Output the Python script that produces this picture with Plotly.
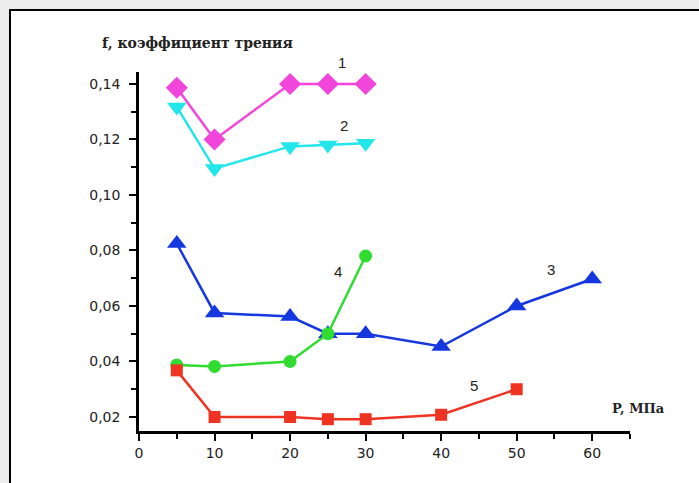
import plotly.graph_objects as go

# Data
x1 = [5, 10, 20, 25, 30]
y1 = [0.1386, 0.120, 0.140, 0.140, 0.140]

x2 = [5, 10, 20, 25, 30]
y2 = [0.1317, 0.1095, 0.1175, 0.118, 0.1186]

x3 = [5, 10, 20, 25, 30, 40, 50, 60]
y3 = [0.0825, 0.0575, 0.0562, 0.050, 0.050, 0.0454, 0.060, 0.0697]

x4 = [5, 10, 20, 25, 30]
y4 = [0.0387, 0.0382, 0.040, 0.050, 0.078]

x5 = [5, 10, 20, 25, 30, 40, 50]
y5 = [0.0368, 0.020, 0.020, 0.0192, 0.0192, 0.0208, 0.030]

curve_labels = ["1", "2", "3", "4", "5"]
label_x = [26.9, 27.2, 54.6, 26.4, 44.4]
label_y = [0.1476, 0.1249, 0.0733, 0.0723, 0.0315]

y_title = "f, коэффициент трения"
x_title = "P, МПа"

X_RANGE = [0, 65]
Y_RANGE = [0.01495, 0.1443]

W, H = 699, 483
L, R, T, B = 139, 69, 72, 52
pw, ph = W - L - R, H - T - B

def px_to_paper_x(px):
    return (px - L) / pw

def py_to_paper_y(py):
    return (H - B - py) / ph

fig = go.Figure()

series = [
    (x1, y1, "#f245dc", "diamond", 17),
    (x2, y2, "#22e6ea", "triangle-down", 17),
    (x3, y3, "#1437e0", "triangle-up", 17),
    (x4, y4, "#30dc30", "circle", 13),
    (x5, y5, "#ee3322", "square", 12),
]
for xs, ys, col, sym, sz in series:
    fig.add_trace(go.Scatter(
        x=xs, y=ys, mode="lines+markers",
        line=dict(color=col, width=2.5),
        marker=dict(symbol=sym, size=sz, color=col, line=dict(width=0)),
        showlegend=False, cliponaxis=False,
    ))

for t, ax, ay in zip(curve_labels, label_x, label_y):
    fig.add_annotation(xref="x", yref="paper", x=ax,
                       y=(ay - Y_RANGE[0]) / (Y_RANGE[1] - Y_RANGE[0]),
                       xanchor="center", yanchor="middle",
                       text=t, showarrow=False,
                       font=dict(family="Liberation Sans, Arial", size=15, color="#222"))

# axis titles
fig.add_annotation(xref="paper", yref="paper",
                   x=px_to_paper_x(197), y=py_to_paper_y(43),
                   xanchor="center", yanchor="middle",
                   text="<b>" + y_title + "</b>", showarrow=False,
                   font=dict(family="DejaVu Serif", size=14, color="#222"))
fig.add_annotation(xref="paper", yref="paper",
                   x=px_to_paper_x(638), y=py_to_paper_y(408),
                   xanchor="center", yanchor="middle",
                   text="<b>" + x_title + "</b>", showarrow=False,
                   font=dict(family="DejaVu Serif", size=13, color="#222"))

# outer frame
fig.add_shape(type="rect", xref="paper", yref="paper",
              x0=px_to_paper_x(10), x1=px_to_paper_x(720),
              y0=py_to_paper_y(500), y1=py_to_paper_y(10),
              line=dict(color="black", width=2), fillcolor="white", layer="below")

axis_common = dict(
    showline=True, linecolor="black", linewidth=2.5,
    showgrid=False, zeroline=False,
    ticks="outside", ticklen=7, tickwidth=2, tickcolor="black",
    tickfont=dict(family="DejaVu Sans, Liberation Sans", size=14, color="#222"),
)

fig.update_xaxes(range=X_RANGE, tick0=0, dtick=10,
                 minor=dict(ticks="outside", dtick=5, ticklen=5, tickwidth=2, tickcolor="black"),
                 **axis_common)
fig.update_yaxes(range=Y_RANGE, tick0=0, dtick=0.02, tickformat=".2f",
                 ticklabelstandoff=6,
                 minor=dict(ticks="outside", dtick=0.01, ticklen=5, tickwidth=2, tickcolor="black"),
                 **axis_common)

fig.update_layout(
    width=W, height=H,
    margin=dict(l=L, r=R, t=T, b=B),
    paper_bgcolor="#ededed", plot_bgcolor="rgba(0,0,0,0)",
    separators=",.",
)

fig.write_html("out.html", config={"displayModeBar": False},
               post_script="document.body.style.margin='0';document.body.style.padding='0';")
